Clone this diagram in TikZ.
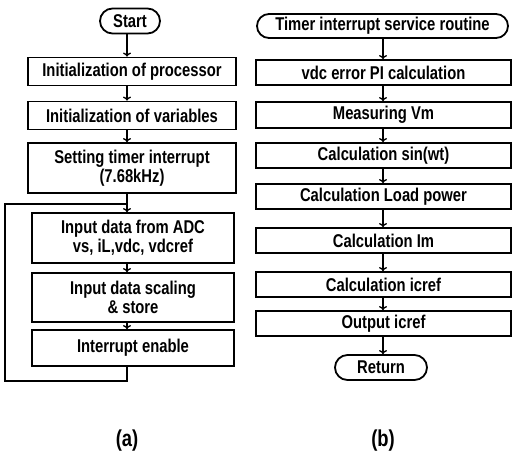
\documentclass[tikz,border=0pt]{standalone}
\usepackage{fontspec}
\setmainfont{Liberation Sans}[FakeStretch=0.8]
\usetikzlibrary{arrows.meta,shapes.misc}
\begin{document}
\begin{tikzpicture}[x=1pt,y=-1pt,
  line width=1.8pt,
  lbl/.style={font=\bfseries\fontsize{18.5}{19}\selectfont},
  box/.style={draw, rectangle, inner sep=0pt, align=center, lbl},
  term/.style={draw, rounded rectangle, inner sep=0pt, lbl},
  flow/.style={-{To[length=4pt,width=8pt,line width=1.3pt]}, line width=1.4pt},
  captext/.style={font=\bfseries\fontsize{23}{26}\selectfont}
]
\useasboundingbox (0,0) rectangle (513,459);

% ---------- (a) main program ----------
\coordinate (colA) at (127,0);
\node[term, minimum width=60pt, minimum height=25pt] (start) at (130,21) {Start};
\node[box, minimum width=208pt, minimum height=28pt] (a1) at (132,71.5) {Initialization of processor};
\node[box, minimum width=208pt, minimum height=28pt] (a2) at (132,115.5) {Initialization of variables};
\node[box, minimum width=208pt, minimum height=50pt] (a3) at (132,168) {Setting timer interrupt\\(7.68kHz)};
\node[box, minimum width=202pt, minimum height=50pt] (a4) at (133,238) {Input data from ADC\\vs, iL,vdc, vdcref};
\node[box, minimum width=202pt, minimum height=49pt] (a5) at (133,297.5) {Input data scaling\\\& store};
\node[box, minimum width=202pt, minimum height=36pt] (a6) at (133,348) {Interrupt enable};
\node[captext] (capa) at (127,441) {(a)};

\draw[flow] (start.south -| colA) -- (a1.north -| colA);
\draw[flow] (a1.south -| colA) -- (a2.north -| colA);
\draw[flow] (a2.south -| colA) -- (a3.north -| colA);
\draw[flow] (a3.south -| colA) -- (a4.north -| colA);
\draw[flow] (a4.south -| colA) -- (a5.north -| colA);
\draw[flow] (a5.south -| colA) -- (a6.north -| colA);
% return loop back to the data input step
\coordinate (loopB) at (5,381);
\coordinate (loopT) at (5,204);
\draw (a6.south -| colA) |- (loopB) -- (loopT) -- (loopT -| colA);

% ---------- (b) timer interrupt service routine ----------
\coordinate (colB) at (383,0);
\node[term, minimum width=251pt, minimum height=24pt] (tisr) at (382.5,26) {Timer interrupt service routine};
\node[box, minimum width=255pt, minimum height=25pt] (b1) at (383.5,72.5) {vdc error PI calculation};
\node[box, minimum width=255pt, minimum height=26pt] (b2) at (383.5,115) {Measuring Vm};
\node[box, minimum width=255pt, minimum height=25pt] (b3) at (383.5,155.5) {Calculation sin(wt)};
\node[box, minimum width=255pt, minimum height=25pt] (b4) at (383.5,196.5) {Calculation Load power};
\node[box, minimum width=255pt, minimum height=25pt] (b5) at (383.5,240.5) {Calculation Im};
\node[box, minimum width=255pt, minimum height=25pt] (b6) at (383.5,284.5) {Calculation icref};
\node[box, minimum width=255pt, minimum height=25pt] (b7) at (383.5,323.5) {Output icref};
\node[term, minimum width=92pt, minimum height=25pt] (ret) at (381,367.5) {Return};
\node[captext] (capb) at (383,441) {(b)};

\draw[flow] (tisr.south -| colB) -- (b1.north -| colB);
\draw[flow] (b1.south -| colB) -- (b2.north -| colB);
\draw[flow] (b2.south -| colB) -- (b3.north -| colB);
\draw[flow] (b3.south -| colB) -- (b4.north -| colB);
\draw[flow] (b4.south -| colB) -- (b5.north -| colB);
\draw[flow] (b5.south -| colB) -- (b6.north -| colB);
\draw[flow] (b6.south -| colB) -- (b7.north -| colB);
\draw[flow] (b7.south -| colB) -- (ret.north -| colB);
\end{tikzpicture}
\end{document}
